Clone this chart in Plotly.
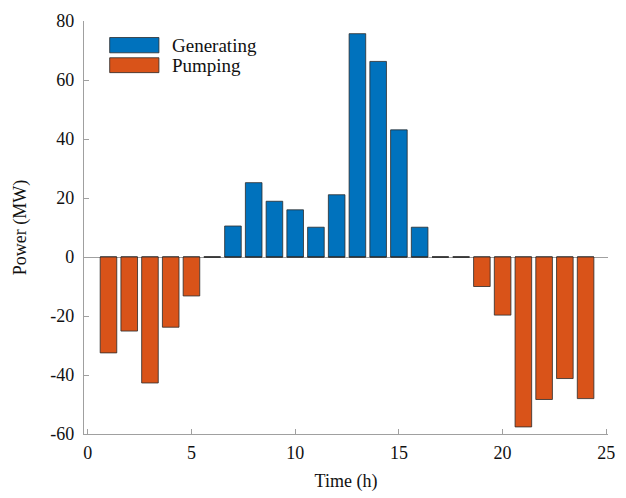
import plotly.graph_objects as go

# Hourly pumped-storage schedule (MW): positive = generating, negative = pumping
hours = list(range(1, 25))
generating = [0, 0, 0, 0, 0, 0, 10.5, 25.2, 18.9, 16.0, 10.1, 21.1,
              75.7, 66.3, 43.1, 10.1, 0, 0, 0, 0, 0, 0, 0, 0]
pumping = [-32.5, -25.1, -42.7, -23.8, -13.2, 0, 0, 0, 0, 0, 0, 0,
           0, 0, 0, 0, 0, 0, -10.0, -19.7, -57.6, -48.3, -41.2, -48.0]

x_ticks = [0, 5, 10, 15, 20, 25]
y_ticks = [-60, -40, -20, 0, 20, 40, 60, 80]
y_tick_text = ["-60", "-40", "-20", "0", "20", "40", "60", "80"]

BLUE = "#0072BD"
ORANGE = "#D95319"
EDGE = "#2b2b2b"
AXIS = "#a0a0a0"
FONT = "Liberation Serif"
TEXT = "#111"

fig = go.Figure()
fig.add_trace(go.Bar(x=hours, y=generating, name="Generating", width=0.8,
                     marker=dict(color=BLUE, line=dict(color=EDGE, width=0.8))))
fig.add_trace(go.Bar(x=hours, y=pumping, name="Pumping", width=0.8,
                     marker=dict(color=ORANGE, line=dict(color=EDGE, width=0.8))))

# Legend drawn as wide swatches with labels (paper coordinates)
legend_items = [("Generating", BLUE, 0.960, 0.923), ("Pumping", ORANGE, 0.911, 0.875)]
for label, color, y1, y0 in legend_items:
    fig.add_shape(type="rect", xref="paper", yref="paper",
                  x0=0.049, x1=0.143, y0=y0, y1=y1,
                  fillcolor=color, line=dict(color=EDGE, width=0.8))
    fig.add_annotation(xref="paper", yref="paper", x=0.1638, y=(y0 + y1) / 2,
                       text=label, showarrow=False, xanchor="left", yanchor="middle",
                       font=dict(family=FONT, size=19, color=TEXT))

fig.update_layout(
    width=626, height=498,
    margin=dict(l=84, r=11, t=19, b=62),
    plot_bgcolor="white", paper_bgcolor="white",
    barmode="overlay", showlegend=False,
    font=dict(family=FONT, size=18, color=TEXT),
)
fig.update_xaxes(
    range=[-0.18, 25.08], tickvals=x_ticks, ticks="inside", ticklen=5,
    tickcolor=AXIS, showline=True, linecolor=AXIS, linewidth=1.2,
    showgrid=False, zeroline=False, ticklabelstandoff=2,
    title=dict(text="Time (h)", standoff=12, font=dict(family=FONT, size=18, color=TEXT)),
)
fig.update_yaxes(
    range=[-60, 80], tickvals=y_ticks, ticktext=y_tick_text, ticks="inside",
    ticklen=5, tickcolor=AXIS, showline=True, linecolor=AXIS, linewidth=1.2,
    showgrid=False, zeroline=True, zerolinecolor=AXIS, zerolinewidth=1.2,
    ticklabelstandoff=5,
    title=dict(text="Power (MW)", standoff=18, font=dict(family=FONT, size=18, color=TEXT)),
)

fig.write_html("out.html")
